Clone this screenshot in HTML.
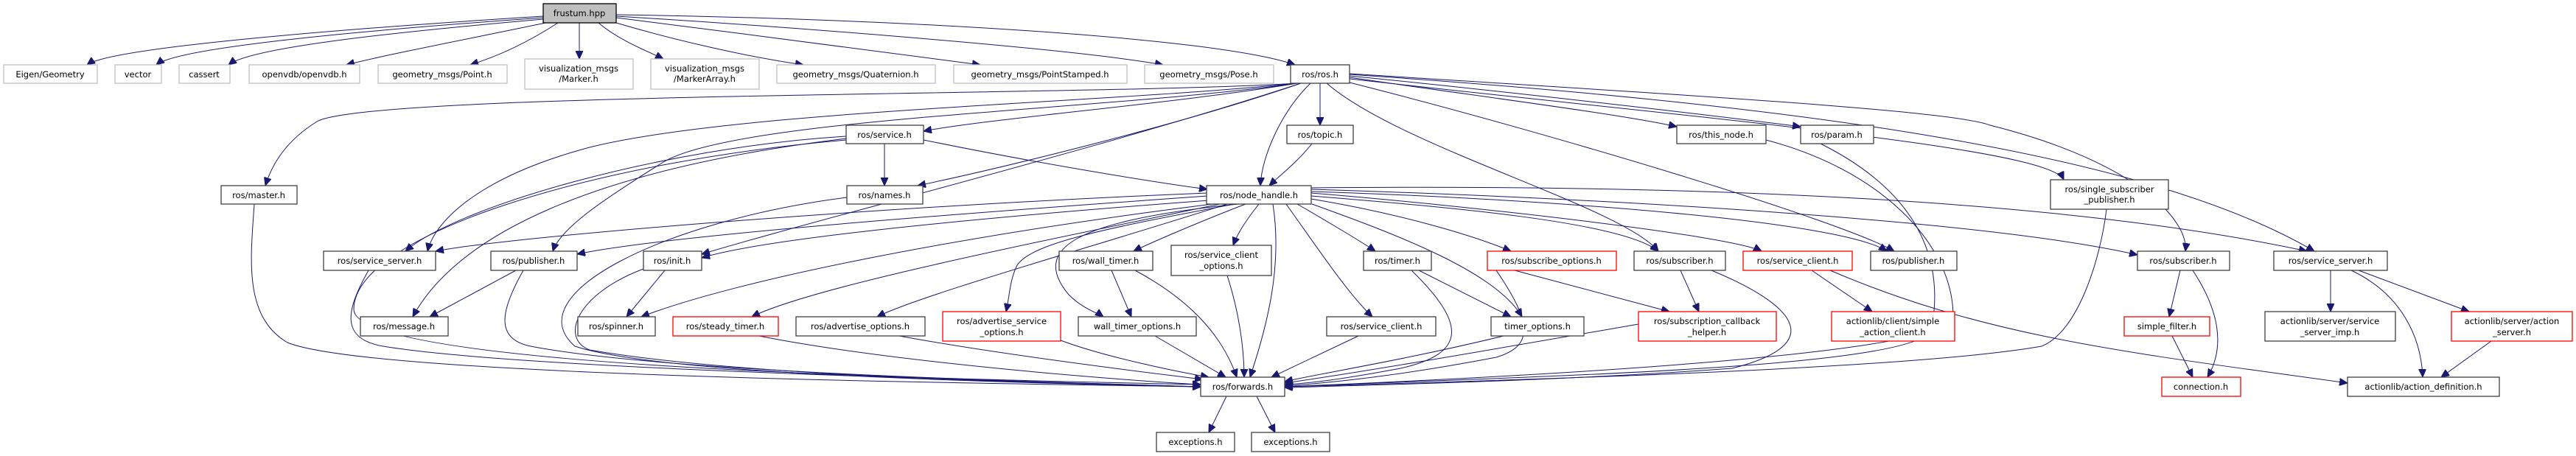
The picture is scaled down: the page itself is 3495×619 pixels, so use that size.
<!DOCTYPE html>
<html><head><meta charset="utf-8"><style>
html,body{margin:0;padding:0;background:#fff;}
svg{display:block;}
text{font-family:"DejaVu Sans","Liberation Sans",sans-serif;font-size:11.5px;fill:#000;text-anchor:middle;}
.n{fill:#fff;stroke:#404040;stroke-width:1.3;}
.g{fill:#fff;stroke:#c0c0c0;stroke-width:1.3;}
.r{fill:#fff;stroke:#ff0000;stroke-width:1.3;}
.e path{fill:none;stroke:#191970;stroke-width:1;}
</style></head><body>
<svg width="3495" height="619" viewBox="0 0 3495 619" xmlns="http://www.w3.org/2000/svg">
<defs><marker id="a" markerUnits="userSpaceOnUse" markerWidth="12" markerHeight="10" refX="11" refY="5" orient="auto"><path d="M0,0 L11,5 L0,10 z" fill="#191970" stroke="#191970"/></marker></defs>
<g class="e" marker-end="url(#a)">
<path marker-end="url(#a)" d="M737 22 C450 40 150 65 118 88"/>
<path marker-end="url(#a)" d="M737 24 C480 42 240 65 212 88"/>
<path marker-end="url(#a)" d="M737 26 C520 45 340 65 310 88"/>
<path marker-end="url(#a)" d="M740 31 C650 50 520 75 470 88"/>
<path marker-end="url(#a)" d="M757 31 C720 55 680 75 638 88"/>
<path marker-end="url(#a)" d="M786 31 L786 80"/>
<path marker-end="url(#a)" d="M812 31 C840 55 880 70 900 80"/>
<path marker-end="url(#a)" d="M836 31 C900 50 1000 75 1090 88"/>
<path marker-end="url(#a)" d="M836 24 C1000 45 1200 70 1330 88"/>
<path marker-end="url(#a)" d="M836 22 C1050 35 1450 65 1578 88"/>
<path marker-end="url(#a)" d="M836 20 C1200 25 1650 50 1757 88"/>
<path marker-end="url(#a)" d="M1760 113 C1500 130 500 125 430 165 C390 190 370 220 360 252"/>
<path marker-end="url(#a)" d="M1760 113 C1600 140 1350 160 1253 178"/>
<path marker-end="url(#a)" d="M1791 113 L1791 170"/>
<path marker-end="url(#a)" d="M1831 105 C2000 130 2200 155 2275 172"/>
<path marker-end="url(#a)" d="M1831 103 C2100 130 2350 160 2443 172"/>
<path marker-end="url(#a)" d="M1831 107 C2300 160 2780 200 2800 244"/>
<path marker-end="url(#a)" d="M1778 113 C1740 150 1712 210 1710 252"/>
<path marker-end="url(#a)" d="M1765 113 C1600 170 1350 230 1245 252"/>
<path marker-end="url(#a)" d="M1760 113 C1500 140 1000 150 800 200 C650 240 590 300 580 341"/>
<path marker-end="url(#a)" d="M1760 113 C1500 150 1000 160 900 220 C820 270 760 310 750 341"/>
<path marker-end="url(#a)" d="M1765 113 C1500 200 1100 300 952 345"/>
<path marker-end="url(#a)" d="M1800 113 C1900 200 2200 280 2250 341"/>
<path marker-end="url(#a)" d="M1831 112 C2100 180 2500 300 2570 341"/>
<path marker-end="url(#a)" d="M1831 100 C2300 130 2650 150 2700 170 C2900 220 2970 300 2965 341"/>
<path marker-end="url(#a)" d="M1831 101 C2400 140 2900 200 3140 341"/>
<path marker-end="url(#a)" d="M1200 195 L1200 252"/>
<path marker-end="url(#a)" d="M1253 190 C1400 220 1550 245 1638 257"/>
<path marker-end="url(#a)" d="M1148 185 C900 200 620 280 550 341"/>
<path marker-end="url(#a)" d="M1148 188 C800 230 620 320 560 430"/>
<path marker-end="url(#a)" d="M1148 190 C800 220 480 320 480 420 C480 500 1300 515 1629 522"/>
<path marker-end="url(#a)" d="M1780 195 C1760 220 1740 235 1722 252"/>
<path marker-end="url(#a)" d="M1149 268 C900 300 700 400 780 470 C900 510 1400 520 1629 525"/>
<path marker-end="url(#a)" d="M345 277 C340 350 330 430 390 465 C500 510 1300 520 1629 525"/>
<path marker-end="url(#a)" d="M2396 190 C2550 230 2650 330 2650 430 C2650 480 2100 510 1743 525"/>
<path marker-end="url(#a)" d="M2470 195 C2600 260 2640 350 2620 450 C2580 500 2100 510 1743 525"/>
<path marker-end="url(#a)" d="M2858 284 C2850 350 2820 450 2770 470 C2600 500 2100 515 1743 525"/>
<path marker-end="url(#a)" d="M1638 262 C1200 280 700 320 591 341"/>
<path marker-end="url(#a)" d="M1638 266 C1300 290 900 320 783 345"/>
<path marker-end="url(#a)" d="M1640 272 C1400 290 1050 320 952 350"/>
<path marker-end="url(#a)" d="M1645 277 C1300 320 1000 380 870 430"/>
<path marker-end="url(#a)" d="M1655 277 C1400 330 1100 390 1020 430"/>
<path marker-end="url(#a)" d="M1665 277 C1500 330 1250 400 1190 430"/>
<path marker-end="url(#a)" d="M1675 277 C1500 310 1400 330 1380 360 C1370 380 1370 400 1365 423"/>
<path marker-end="url(#a)" d="M1690 277 C1630 300 1560 330 1538 341"/>
<path marker-end="url(#a)" d="M1680 277 C1450 300 1400 340 1450 400 C1470 420 1490 425 1497 430"/>
<path marker-end="url(#a)" d="M1708 277 C1690 300 1680 315 1673 333"/>
<path marker-end="url(#a)" d="M1727 277 C1740 360 1720 440 1696 512"/>
<path marker-end="url(#a)" d="M1745 277 C1790 340 1830 400 1862 430"/>
<path marker-end="url(#a)" d="M1760 277 C1800 300 1850 330 1866 341"/>
<path marker-end="url(#a)" d="M1780 277 C1900 320 2030 370 2065 430"/>
<path marker-end="url(#a)" d="M1779 270 C1900 290 2000 320 2050 341"/>
<path marker-end="url(#a)" d="M1779 266 C1950 280 2200 300 2250 341"/>
<path marker-end="url(#a)" d="M1779 262 C2000 280 2350 320 2390 341"/>
<path marker-end="url(#a)" d="M1779 260 C2100 270 2500 300 2560 341"/>
<path marker-end="url(#a)" d="M1779 257 C2200 270 2700 300 2900 346"/>
<path marker-end="url(#a)" d="M1779 255 C2300 250 2800 270 3130 341"/>
<path marker-end="url(#a)" d="M500 367 C470 420 460 460 520 470 C700 500 1300 515 1629 525"/>
<path marker-end="url(#a)" d="M700 367 L583 430"/>
<path marker-end="url(#a)" d="M710 367 C680 420 670 460 720 470 C900 505 1400 518 1629 525"/>
<path marker-end="url(#a)" d="M902 367 L850 430"/>
<path marker-end="url(#a)" d="M873 365 C780 400 760 460 800 475 C1000 510 1400 520 1629 525"/>
<path marker-end="url(#a)" d="M1030 456 C1200 490 1500 515 1629 522"/>
<path marker-end="url(#a)" d="M1220 456 C1350 480 1550 505 1632 515"/>
<path marker-end="url(#a)" d="M1439 462 C1500 485 1600 505 1640 512"/>
<path marker-end="url(#a)" d="M1508 367 L1535 430"/>
<path marker-end="url(#a)" d="M1540 367 C1620 410 1660 460 1678 512"/>
<path marker-end="url(#a)" d="M1567 456 L1663 512"/>
<path marker-end="url(#a)" d="M1665 374 C1680 420 1688 470 1688 512"/>
<path marker-end="url(#a)" d="M1843 456 L1725 512"/>
<path marker-end="url(#a)" d="M1925 367 L2050 430"/>
<path marker-end="url(#a)" d="M1915 367 C1990 440 1990 480 1900 500 C1820 515 1780 520 1743 522"/>
<path marker-end="url(#a)" d="M2040 456 C1900 490 1800 505 1743 518"/>
<path marker-end="url(#a)" d="M2055 367 L2265 423"/>
<path marker-end="url(#a)" d="M2030 367 C2080 440 2080 470 2030 485 C1900 510 1800 520 1743 524"/>
<path marker-end="url(#a)" d="M2280 367 L2305 423"/>
<path marker-end="url(#a)" d="M2322 367 C2450 420 2470 470 2350 500 C2150 515 1900 522 1743 526"/>
<path marker-end="url(#a)" d="M2458 367 L2540 423"/>
<path marker-end="url(#a)" d="M2483 367 C2700 460 2900 480 3185 520"/>
<path marker-end="url(#a)" d="M2223 440 C2050 470 1850 505 1743 520"/>
<path marker-end="url(#a)" d="M2958 367 L2943 430"/>
<path marker-end="url(#a)" d="M2975 367 C3010 420 3020 470 2995 512"/>
<path marker-end="url(#a)" d="M2947 456 L2975 512"/>
<path marker-end="url(#a)" d="M3162 367 L3162 423"/>
<path marker-end="url(#a)" d="M3190 367 C3260 400 3285 460 3287 512"/>
<path marker-end="url(#a)" d="M3200 367 L3350 423"/>
<path marker-end="url(#a)" d="M3380 463 L3312 512"/>
<path marker-end="url(#a)" d="M1664 538 L1640 587"/>
<path marker-end="url(#a)" d="M1705 538 L1730 587"/>
</g>
<g>
<rect x="737" y="5" width="99" height="26" fill="#bfbfbf" stroke="#000" stroke-width="1.3"/><text x="786" y="22">frustum.hpp</text>
<rect class="g" x="5" y="88" width="127" height="25"/><text x="68" y="105">Eigen/Geometry</text>
<rect class="g" x="156" y="88" width="63" height="25"/><text x="187" y="105">vector</text>
<rect class="g" x="243" y="88" width="69" height="25"/><text x="277" y="105">cassert</text>
<rect class="g" x="338" y="88" width="150" height="25"/><text x="413" y="105">openvdb/openvdb.h</text>
<rect class="g" x="513" y="88" width="175" height="25"/><text x="600" y="105">geometry_msgs/Point.h</text>
<rect class="g" x="712" y="80" width="147" height="41"/><text x="785" y="97">visualization_msgs</text><text x="785" y="111">/Marker.h</text>
<rect class="g" x="883" y="80" width="147" height="41"/><text x="956" y="97">visualization_msgs</text><text x="956" y="111">/MarkerArray.h</text>
<rect class="g" x="1054" y="88" width="215" height="25"/><text x="1161" y="105">geometry_msgs/Quaternion.h</text>
<rect class="g" x="1294" y="88" width="235" height="25"/><text x="1411" y="105">geometry_msgs/PointStamped.h</text>
<rect class="g" x="1553" y="88" width="175" height="25"/><text x="1640" y="105">geometry_msgs/Pose.h</text>
<rect class="n" x="1751" y="88" width="80" height="25"/><text x="1791" y="105">ros/ros.h</text>
<rect class="n" x="1148" y="170" width="105" height="25"/><text x="1200" y="187">ros/service.h</text>
<rect class="n" x="1746" y="170" width="90" height="25"/><text x="1791" y="187">ros/topic.h</text>
<rect class="n" x="2275" y="170" width="121" height="25"/><text x="2335" y="187">ros/this_node.h</text>
<rect class="n" x="2443" y="170" width="99" height="25"/><text x="2492" y="187">ros/param.h</text>
<rect class="n" x="2782" y="244" width="160" height="40"/><text x="2862" y="261">ros/single_subscriber</text><text x="2862" y="275">_publisher.h</text>
<rect class="n" x="300" y="252" width="103" height="25"/><text x="351" y="269">ros/master.h</text>
<rect class="n" x="1149" y="252" width="103" height="25"/><text x="1200" y="269">ros/names.h</text>
<rect class="n" x="1637" y="252" width="142" height="25"/><text x="1708" y="269">ros/node_handle.h</text>
<rect class="n" x="439" y="341" width="152" height="26"/><text x="515" y="358">ros/service_server.h</text>
<rect class="n" x="666" y="341" width="117" height="26"/><text x="724" y="358">ros/publisher.h</text>
<rect class="n" x="873" y="341" width="79" height="26"/><text x="912" y="358">ros/init.h</text>
<rect class="n" x="1437" y="341" width="127" height="26"/><text x="1500" y="358">ros/wall_timer.h</text>
<rect class="n" x="1589" y="333" width="136" height="41"/><text x="1657" y="350">ros/service_client</text><text x="1657" y="365">_options.h</text>
<rect class="n" x="1850" y="341" width="92" height="26"/><text x="1896" y="358">ros/timer.h</text>
<rect class="r" x="2018" y="341" width="175" height="26"/><text x="2105" y="358">ros/subscribe_options.h</text>
<rect class="n" x="2217" y="341" width="124" height="26"/><text x="2279" y="358">ros/subscriber.h</text>
<rect class="r" x="2365" y="341" width="148" height="26"/><text x="2439" y="358">ros/service_client.h</text>
<rect class="n" x="2538" y="341" width="117" height="26"/><text x="2596" y="358">ros/publisher.h</text>
<rect class="n" x="2900" y="341" width="125" height="26"/><text x="2962" y="358">ros/subscriber.h</text>
<rect class="n" x="3085" y="341" width="154" height="26"/><text x="3162" y="358">ros/service_server.h</text>
<rect class="n" x="489" y="430" width="119" height="26"/><text x="548" y="447">ros/message.h</text>
<rect class="n" x="784" y="430" width="105" height="26"/><text x="836" y="447">ros/spinner.h</text>
<rect class="r" x="913" y="430" width="143" height="26"/><text x="984" y="447">ros/steady_timer.h</text>
<rect class="n" x="1080" y="430" width="175" height="26"/><text x="1167" y="447">ros/advertise_options.h</text>
<rect class="r" x="1279" y="423" width="160" height="40"/><text x="1359" y="440">ros/advertise_service</text><text x="1359" y="455">_options.h</text>
<rect class="n" x="1463" y="430" width="160" height="26"/><text x="1543" y="447">wall_timer_options.h</text>
<rect class="n" x="1800" y="430" width="148" height="26"/><text x="1874" y="447">ros/service_client.h</text>
<rect class="n" x="2023" y="430" width="126" height="26"/><text x="2086" y="447">timer_options.h</text>
<rect class="r" x="2223" y="423" width="187" height="40"/><text x="2316" y="440">ros/subscription_callback</text><text x="2316" y="455">_helper.h</text>
<rect class="r" x="2485" y="423" width="167" height="40"/><text x="2568" y="440">actionlib/client/simple</text><text x="2568" y="455">_action_client.h</text>
<rect class="r" x="2882" y="430" width="116" height="26"/><text x="2940" y="447">simple_filter.h</text>
<rect class="n" x="3073" y="423" width="177" height="40"/><text x="3161" y="440">actionlib/server/service</text><text x="3161" y="455">_server_imp.h</text>
<rect class="r" x="3326" y="423" width="164" height="40"/><text x="3408" y="440">actionlib/server/action</text><text x="3408" y="455">_server.h</text>
<rect class="n" x="1629" y="512" width="114" height="26"/><text x="1686" y="529">ros/forwards.h</text>
<rect class="r" x="2933" y="512" width="107" height="26"/><text x="2986" y="529">connection.h</text>
<rect class="n" x="3185" y="512" width="206" height="26"/><text x="3288" y="529">actionlib/action_definition.h</text>
<rect class="n" x="1569" y="587" width="106" height="26"/><text x="1622" y="604">exceptions.h</text>
<rect class="n" x="1698" y="587" width="106" height="26"/><text x="1751" y="604">exceptions.h</text>
</g>
</svg>
</body></html>
